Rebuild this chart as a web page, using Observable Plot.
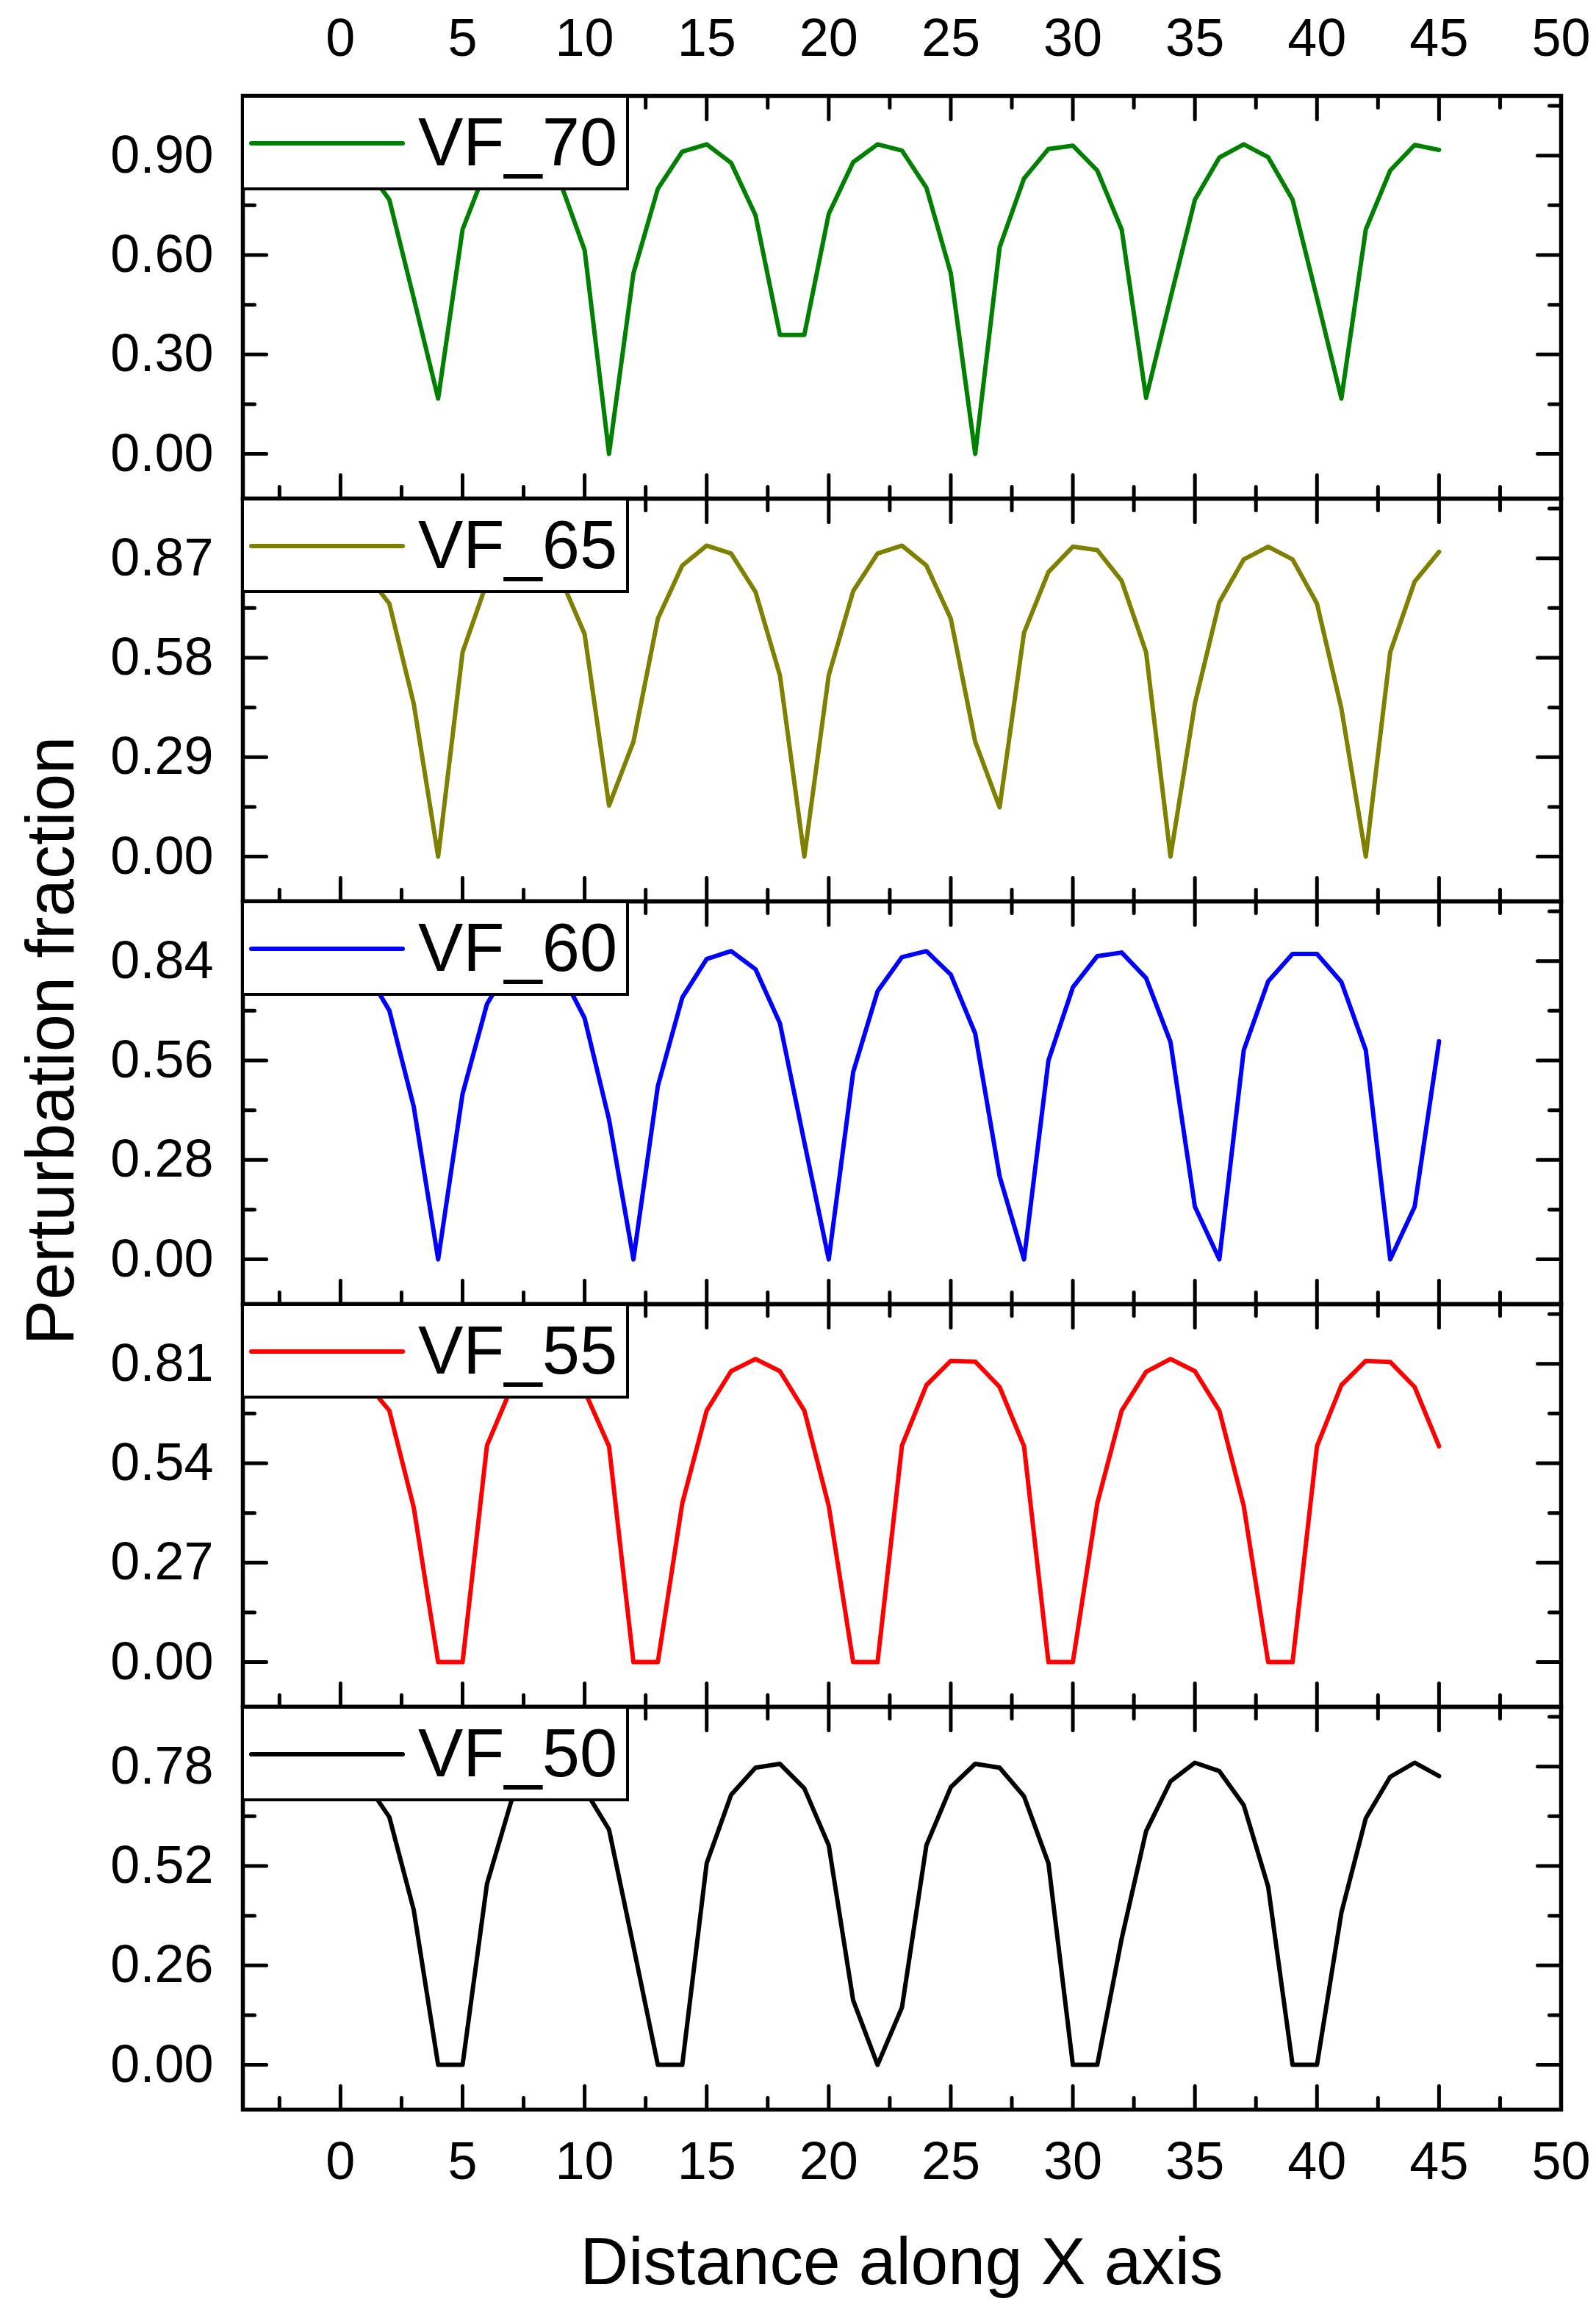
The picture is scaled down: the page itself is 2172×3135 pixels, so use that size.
<!DOCTYPE html>
<html>
<head>
<meta charset="utf-8">
<script src="https://cdn.jsdelivr.net/npm/d3@7"></script>
<script src="https://cdn.jsdelivr.net/npm/@observablehq/plot@0.6"></script>
<style>
html, body { margin: 0; padding: 0; background: #ffffff; overflow: hidden; }
#wrap { position: relative; width: 2172px; height: 3135px; background: #ffffff; overflow: hidden; }
#wrap > svg { position: absolute; left: 0; }
</style>
</head>
<body>
<div id="wrap"></div>
<script>
// ---------------- data ----------------
const distance = [0,1,2,3,4,5,6,7,8,9,10,11,12,13,14,15,16,17,18,19,20,21,22,23,24,25,26,27,28,29,30,31,32,33,34,35,36,37,38,39,40,41,42,43,44,45];

const vf70 = [0.93,0.87,0.767,0.47,0.167,0.677,0.867,0.93,0.92,0.82,0.615,0.0,0.545,0.80,0.912,0.934,0.878,0.72,0.359,0.359,0.724,0.88,0.934,0.915,0.803,0.545,0.0,0.623,0.831,0.920,0.930,0.855,0.677,0.169,0.47,0.767,0.894,0.934,0.895,0.767,0.47,0.167,0.677,0.855,0.932,0.917];
const vf65 = [0.89,0.83,0.738,0.446,0.0,0.596,0.80,0.89,0.89,0.815,0.649,0.149,0.335,0.694,0.849,0.907,0.884,0.772,0.529,0.0,0.529,0.774,0.884,0.907,0.849,0.694,0.335,0.144,0.653,0.83,0.904,0.894,0.804,0.596,0.0,0.447,0.742,0.867,0.904,0.867,0.738,0.432,0.0,0.596,0.802,0.889];
const vf60 = [0.87,0.817,0.701,0.430,0.0,0.466,0.719,0.835,0.86,0.813,0.679,0.394,0.0,0.488,0.737,0.846,0.868,0.817,0.665,0.33,0.0,0.527,0.755,0.851,0.868,0.802,0.636,0.234,0.0,0.56,0.766,0.854,0.864,0.792,0.612,0.148,0.0,0.589,0.783,0.860,0.860,0.781,0.589,0.0,0.148,0.614];
const vf55 = [0.81,0.763,0.683,0.420,0.0,0.0,0.588,0.745,0.81,0.80,0.736,0.586,0.0,0.0,0.431,0.683,0.790,0.823,0.790,0.683,0.424,0.0,0.0,0.588,0.752,0.818,0.816,0.747,0.586,0.0,0.0,0.431,0.683,0.788,0.823,0.790,0.683,0.424,0.0,0.0,0.586,0.752,0.818,0.815,0.747,0.586];
const vf50 = [0.78,0.741,0.648,0.405,0.0,0.0,0.473,0.69,0.78,0.78,0.72,0.615,0.31,0.0,0.0,0.527,0.706,0.777,0.787,0.723,0.574,0.169,0.0,0.15,0.574,0.726,0.787,0.777,0.702,0.527,0.0,0.0,0.33,0.611,0.741,0.790,0.768,0.679,0.466,0.0,0.0,0.398,0.645,0.753,0.790,0.755];

const seriesNames  = ["VF_70", "VF_65", "VF_60", "VF_55", "VF_50"];
const seriesValues = [vf70, vf65, vf60, vf55, vf50];
const seriesColors = ["#008000", "#808000", "#0000ff", "#ff0000", "#000000"];

const xDomain      = [-4, 50];
const xTicksMajor  = [0, 5, 10, 15, 20, 25, 30, 35, 40, 45, 50];
const xTicksMinor  = [-2.5, 2.5, 7.5, 12.5, 17.5, 22.5, 27.5, 32.5, 37.5, 42.5, 47.5];

const yDomains = [[-0.135, 1.08], [-0.1305, 1.044], [-0.126, 1.008], [-0.1215, 0.972], [-0.117, 0.936]];
const yTicksMajor = [
  [0, 0.30, 0.60, 0.90],
  [0, 0.29, 0.58, 0.87],
  [0, 0.28, 0.56, 0.84],
  [0, 0.27, 0.54, 0.81],
  [0, 0.26, 0.52, 0.78]
];
const yTicksMinor = [
  [0.15, 0.45, 0.75, 1.05],
  [0.145, 0.435, 0.725, 1.015],
  [0.14, 0.42, 0.70, 0.98],
  [0.135, 0.405, 0.675, 0.945],
  [0.13, 0.39, 0.65, 0.91]
];

const xTitle = "Distance along X axis";
const yTitle = "Perturbation fraction";

// ---------------- layout ----------------
const W = 2172;
const FRAME_LEFT = 330, FRAME_RIGHT_MARGIN = 48;
const FRAME_TOP = 130, PANEL_H = 548;
const FONT = "'Liberation Sans', Arimo, Arial, sans-serif";
const MAJOR = 32, MINOR = 16, SW = 5;

const tickShape = { draw(context, l) { context.moveTo(0, 0); context.lineTo(0, -l); } };

const wrap = document.getElementById("wrap");

function ticks(data, opts, len) {
  return Plot.vector(data, { ...opts, length: len, anchor: "start", shape: tickShape, stroke: "black", strokeWidth: SW });
}

seriesNames.forEach((name, i) => {
  const panelTop = FRAME_TOP + i * PANEL_H;
  const mt = i === 0 ? FRAME_TOP : 12;
  const mb = i === seriesNames.length - 1 ? (3135 - (FRAME_TOP + 5 * PANEL_H)) : 12;
  const rows = distance.map((d, j) => ({ x: d, y: seriesValues[i][j] }));

  const marks = [
    Plot.line(rows, { x: "x", y: "y", stroke: seriesColors[i], strokeWidth: 6 }),
    // y ticks left / right (inward)
    ticks(yTicksMajor[i], { y: d => d, frameAnchor: "left", rotate: 90 }, MAJOR),
    ticks(yTicksMinor[i], { y: d => d, frameAnchor: "left", rotate: 90 }, MINOR),
    ticks(yTicksMajor[i], { y: d => d, frameAnchor: "right", rotate: 270 }, MAJOR),
    ticks(yTicksMinor[i], { y: d => d, frameAnchor: "right", rotate: 270 }, MINOR),
    // x ticks bottom / top (inward)
    ticks(xTicksMajor, { x: d => d, frameAnchor: "bottom", rotate: 0 }, MAJOR),
    ticks(xTicksMinor, { x: d => d, frameAnchor: "bottom", rotate: 0 }, MINOR),
    ticks(xTicksMajor, { x: d => d, frameAnchor: "top", rotate: 180 }, MAJOR),
    ticks(xTicksMinor, { x: d => d, frameAnchor: "top", rotate: 180 }, MINOR),
    Plot.axisY({ ticks: yTicksMajor[i], tickFormat: d => d.toFixed(2), tickSize: 0, tickPadding: 40, fontSize: 72, label: null }),
    Plot.frame({ stroke: "black", strokeWidth: 5.5 })
  ];
  if (i === 0) marks.push(Plot.axisX({ anchor: "top", ticks: xTicksMajor, tickSize: 0, tickPadding: 55, fontSize: 72, label: null }));
  if (i === seriesNames.length - 1) marks.push(Plot.axisX({ anchor: "bottom", ticks: xTicksMajor, tickSize: 0, tickPadding: 43, fontSize: 72, label: null }));
  else if (i !== 0) marks.push(Plot.axisX({ ticks: [], label: null, tickSize: 0 }));
  if (i === 0) marks.push(Plot.axisX({ anchor: "bottom", ticks: [], label: null, tickSize: 0 }));

  const chart = Plot.plot({
    width: W,
    height: PANEL_H + mt + mb,
    marginLeft: FRAME_LEFT,
    marginRight: FRAME_RIGHT_MARGIN,
    marginTop: mt,
    marginBottom: mb,
    x: { domain: xDomain },
    y: { domain: yDomains[i] },
    style: { background: "transparent", overflow: "visible", fontFamily: FONT, color: "black" },
    marks
  });
  chart.style.position = "absolute";
  chart.style.left = "0px";
  chart.style.top = (panelTop - mt) + "px";
  wrap.appendChild(chart);
});

// ---------------- overlay: legends and axis titles ----------------
const ov = d3.select(wrap).append("svg")
  .attr("width", W).attr("height", 3135)
  .style("position", "absolute").style("left", "0px").style("top", "0px")
  .style("pointer-events", "none")
  .attr("font-family", FONT);

seriesNames.forEach((name, i) => {
  const top = FRAME_TOP + i * PANEL_H;
  const g = ov.append("g");
  g.append("rect").attr("x", 330).attr("y", top + 1).attr("width", 524).attr("height", 126)
    .attr("fill", "white").attr("stroke", "black").attr("stroke-width", 4);
  g.append("line").attr("x1", 342).attr("x2", 548).attr("y1", top + 65).attr("y2", top + 65)
    .attr("stroke", seriesColors[i]).attr("stroke-width", 6).attr("stroke-linecap", "round");
  g.append("text").attr("x", 569).attr("y", top + 95).attr("font-size", 92).attr("fill", "black").text(name);
});

ov.append("text").attr("x", 1227).attr("y", 3108).attr("text-anchor", "middle")
  .attr("font-size", 91).attr("fill", "black").text(xTitle);
ov.append("text").attr("transform", "translate(100,1416) rotate(-90)").attr("text-anchor", "middle")
  .attr("font-size", 92).attr("fill", "black").text(yTitle);
</script>
</body>
</html>
